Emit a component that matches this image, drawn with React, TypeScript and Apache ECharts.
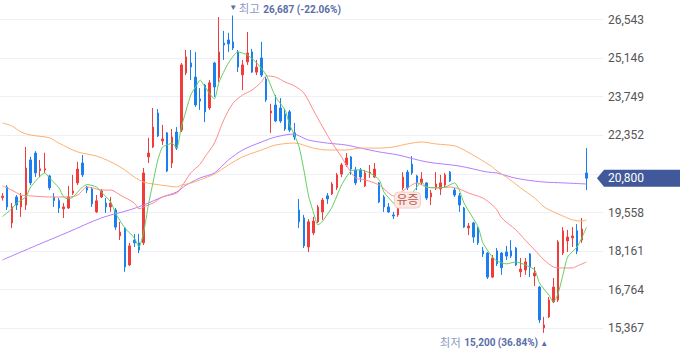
import React, { useEffect, useRef } from "react";
import * as echarts from "echarts";

// Daily candles (KRW)
const opens = [
  20100, 20480, 19180, 20120, 19760, 19830, 21460, 21710, 21070, 21100,
  20880, 20120, 19990, 19690, 19720, 20260, 20630, 21350, 20480, 20410,
  19580, 20120, 19900, 19760, 19650, 18710, 19000, 17660, 18560, 18460,
  18460, 21570, 21930, 23160, 22150, 22440, 21350, 22470, 22540, 24610,
  24970, 24460, 23670, 24170, 23340, 24970, 24430, 25690, 25800, 25730,
  25370, 24540, 25010, 25370, 24640, 25150, 24390, 23160, 23450, 23340,
  23120, 23200, 22440, 19650, 19360, 18310, 18820, 19220, 19580, 20160,
  20230, 20450, 20950, 21280, 21570, 21100, 21100, 20520, 20990, 20840,
  20630, 20120, 19760, 19470, 19470, 20450, 21020, 21310, 20880, 20630,
  20630, 20120, 20450, 20410, 20550, 21020, 20370, 20160, 19720, 19000,
  19180, 19000, 18170, 18090, 17220, 18170, 18090, 18130, 18170, 18270,
  17410, 17480, 18060, 17260, 16860, 15380, 15780, 16320, 16390, 18090,
  18530, 18640, 18900, 18560, 20990,
];
const closes = [
  20150, 19760, 19760, 19830, 20160, 21170, 20630, 20990, 21140, 21140,
  20450, 19990, 19720, 19760, 20120, 20340, 21130, 20920, 20370, 19870,
  19980, 20340, 19760, 19900, 19030, 18850, 17590, 18350, 18460, 18200,
  20990, 21710, 22650, 22330, 22220, 21060, 22290, 21890, 24900, 25190,
  24820, 23450, 23590, 23200, 24250, 24100, 25370, 25620, 25660, 25510,
  24820, 24900, 25330, 24640, 24820, 24530, 23630, 23230, 22870, 22870,
  22580, 22540, 22290, 19220, 18350, 19220, 19250, 19760, 20010, 20050,
  20590, 20920, 21280, 21530, 21130, 20630, 20840, 20990, 21020, 21130,
  19940, 19760, 19580, 19430, 19760, 20840, 20450, 20990, 20630, 20770,
  20080, 20260, 20590, 20630, 20920, 20700, 20190, 19830, 19030, 19070,
  18670, 18460, 18060, 17220, 17910, 17700, 17560, 17980, 17980, 17660,
  17510, 17770, 17590, 17370, 15670, 15490, 16390, 16860, 18490, 18890,
  18670, 18710, 18160, 18960, 20800,
];
const lows = [
  19990, 19650, 19000, 19650, 19400, 19650, 20550, 20840, 20840, 20990,
  20370, 19760, 19540, 19360, 19690, 20190, 20550, 20840, 20260, 19760,
  19540, 20080, 19540, 19580, 18930, 18560, 17410, 17620, 18310, 18090,
  18380, 21350, 21890, 22290, 22000, 21020, 21170, 21820, 22470, 24530,
  24350, 23380, 23270, 22830, 23270, 23740, 24280, 25080, 25370, 25440,
  24640, 23990, 24900, 24610, 24530, 24460, 23560, 22440, 22830, 22800,
  22510, 22470, 22180, 19000, 18270, 18130, 18740, 19180, 19290, 19870,
  20190, 20370, 20840, 21210, 20920, 20550, 20660, 20480, 20810, 20810,
  19900, 19580, 19540, 19320, 19400, 20370, 20370, 20920, 20370, 20550,
  20010, 19830, 20370, 20190, 20480, 20660, 20120, 19580, 19000, 18740,
  18460, 18380, 17950, 17150, 17190, 17620, 17300, 17840, 17910, 17620,
  17220, 17300, 17220, 16900, 15560, 15200, 15740, 16280, 16320, 18020,
  18130, 18310, 18050, 18460, 20370,
];
const highs = [
  20260, 20550, 19900, 20190, 20260, 21930, 21570, 21780, 21460, 21720,
  20920, 20260, 20080, 19900, 20520, 20920, 21390, 21640, 20520, 20480,
  20190, 20410, 20080, 20120, 19720, 19220, 19030, 18460, 18780, 18780,
  21170, 22260, 23340, 23300, 22730, 22470, 22580, 22650, 24970, 25440,
  25440, 25370, 24060, 24210, 24350, 25010, 26630, 26130, 26060, 26687,
  25440, 25080, 26090, 25480, 25080, 25730, 24460, 23490, 23810, 23700,
  23300, 23270, 22800, 20050, 19470, 19320, 19400, 19830, 20080, 20260,
  20660, 20990, 21350, 21710, 21600, 21210, 21170, 21100, 21280, 21350,
  20660, 20190, 19900, 19580, 19830, 21020, 21100, 21600, 20920, 21020,
  20660, 20370, 21020, 20920, 20990, 21060, 20450, 20260, 19760, 19180,
  19220, 19030, 18310, 18130, 18020, 18270, 18130, 18350, 18560, 18310,
  17910, 17910, 18090, 17590, 16900, 15780, 16500, 17190, 18560, 19030,
  18930, 19030, 19140, 19360, 21890,
];

// Moving averages: [candle index, value]
const ma5 = [
  [0, 19410], [2, 19690], [3, 19900], [5, 20120], [6, 20480], [9, 20990], [10, 20810],
  [12, 20450], [13, 20120], [14, 20050], [15, 20120], [17, 20480], [18, 20570], [20, 20480],
  [21, 20300], [23, 19940], [24, 19540], [26, 19000], [28, 18640], [29, 18310], [30, 18850],
  [31, 19830], [32, 20660], [33, 21460], [34, 21930], [35, 22000], [36, 22070], [37, 21890],
  [38, 22650], [40, 23810], [41, 24100], [42, 24350], [43, 24100], [45, 23670], [46, 24280],
  [48, 24970], [50, 25370], [52, 25260], [54, 24970], [56, 24540], [58, 23740], [60, 23270],
  [61, 22730], [62, 22360], [63, 21930], [64, 21100], [65, 20160], [66, 19580], [67, 19110],
  [68, 19250], [70, 19760], [72, 20550], [74, 21060], [76, 21100], [78, 20990], [80, 20740],
  [81, 20300], [83, 19900], [84, 19760], [87, 20260], [89, 20660], [90, 20480], [92, 20450],
  [94, 20480], [96, 20630], [97, 20370], [98, 19900], [101, 19030], [102, 18460], [104, 17950],
  [105, 17800], [107, 17700], [109, 17770], [111, 17660], [113, 17480], [114, 17010],
  [116, 16570], [117, 16320], [118, 16650], [119, 17300], [120, 17950], [122, 18310],
  [123, 18640], [124, 19030],
];
const ma20 = [
  [0, 20520], [2, 20370], [4, 20190], [6, 20160], [10, 20120], [14, 20120], [16, 20190],
  [18, 20480], [20, 20410], [21, 20370], [23, 20370], [25, 20190], [28, 19900], [29, 19690],
  [30, 19760], [32, 19900], [34, 20120], [37, 20260], [38, 20480], [40, 20990], [42, 21310],
  [43, 21570], [45, 22070], [47, 22910], [49, 23520], [51, 23810], [53, 23990], [55, 24280],
  [56, 24500], [58, 24460], [60, 24280], [62, 24140], [64, 23880], [66, 23270], [68, 22650],
  [70, 22070], [72, 21570], [73, 21280], [75, 20810], [77, 20740], [80, 20550], [82, 20260],
  [83, 20160], [86, 20450], [88, 20630], [90, 20480], [93, 20450], [95, 20480], [97, 20410],
  [99, 20260], [102, 20080], [104, 19830], [105, 19650], [106, 19360], [109, 18930],
  [111, 18560], [113, 18200], [115, 17840], [117, 17590], [119, 17550], [121, 17550],
  [122, 17620], [124, 17770],
];
const ma60 = [
  [0, 22800], [2, 22690], [4, 22470], [6, 22360], [10, 22260], [12, 22070], [16, 21750],
  [20, 21600], [23, 21390], [26, 21100], [28, 20840], [30, 20660], [32, 20590], [35, 20520],
  [37, 20480], [38, 20550], [40, 20620], [42, 20740], [45, 20950], [48, 21280], [51, 21570],
  [55, 21820], [58, 22000], [62, 22070], [66, 21890], [69, 21820], [73, 21820], [76, 21890],
  [80, 21890], [83, 21930], [86, 22040], [89, 22110], [92, 22040], [96, 21970], [98, 21820],
  [101, 21530], [104, 21210], [105, 21060], [107, 20840], [110, 20450], [113, 20080],
  [115, 19760], [117, 19580], [119, 19430], [121, 19290], [123, 19250], [124, 19290],
];
const ma120 = [
  [0, 17840], [7, 18350], [14, 18850], [21, 19360], [27, 19650], [30, 19830], [34, 20120],
  [37, 20300], [39, 20550], [42, 20810], [45, 20990], [48, 21460], [51, 21820], [55, 22110],
  [58, 22290], [62, 22400], [63, 22330], [65, 22180], [69, 22070], [73, 22000], [76, 21890],
  [80, 21750], [84, 21640], [90, 21390], [97, 21240], [103, 21020], [105, 20990], [108, 20840],
  [111, 20740], [115, 20660], [119, 20630], [124, 20590],
];

const yTickStep = 1397;
const yMin = 13970;
const yMax = 27940;
const slotCount = 128;
const eventIndex = 86;
const eventLabel = "유증";

const FONT = 'Roboto, "Noto Sans CJK KR", sans-serif';
const UP = "#ef3d3d";
const DOWN = "#1c7ff0";

const fmt = (v: number) => v.toLocaleString("en-US");

export default function App() {
  const ref = useRef<HTMLDivElement>(null);
  useEffect(() => {
    const chart = echarts.init(ref.current!, null, { renderer: "svg" });
    const cats = Array.from({ length: slotCount }, (_, i) => String(i));
    const candles = opens.map((o, i) => [o, closes[i], lows[i], highs[i]]);
    const last = closes[closes.length - 1];
    const lineSeries = (data: number[][], color: string, smooth: number) => ({
      type: "line",
      data,
      symbol: "none",
      showSymbol: false,
      smooth,
      silent: true,
      lineStyle: { width: 1, color },
      z: 3,
    });
    chart.setOption({
      animation: false,
      grid: { left: 0, right: 77, top: 10.9, bottom: 23.1 },
      xAxis: { type: "category", data: cats, boundaryGap: true, show: false },
      yAxis: {
        type: "value",
        position: "right",
        min: yMin,
        max: yMax,
        interval: yTickStep,
        axisLine: { show: false },
        axisTick: { show: false },
        splitLine: { lineStyle: { color: "#eef0f5", width: 1 } },
        axisLabel: {
          margin: 5,
          color: "#555555",
          fontSize: 12,
          fontFamily: FONT,
          formatter: (v: number) =>
            v <= yMin || v >= yMax || Math.abs(v - last) < yTickStep / 2 ? "" : fmt(v),
        },
      },
      series: [
        {
          type: "candlestick",
          data: candles,
          barWidth: 2,
          silent: true,
          itemStyle: {
            color: UP,
            color0: DOWN,
            borderColor: UP,
            borderColor0: DOWN,
            borderWidth: 1,
          },
          z: 2,
        },
        lineSeries(ma120, "#b67cff", 0.3),
        lineSeries(ma60, "#ffb070", 0.3),
        lineSeries(ma20, "#ff8c8c", 0.3),
        lineSeries(ma5, "#5fd05f", 0.2),
      ],
    });

    let hiIdx = 0;
    let loIdx = 0;
    highs.forEach((h, i) => { if (h > highs[hiIdx]) hiIdx = i; });
    lows.forEach((l, i) => { if (l < lows[loIdx]) loIdx = i; });
    const hiVal = highs[hiIdx];
    const loVal = lows[loIdx];
    const hiPct = (((last - hiVal) / hiVal) * 100).toFixed(2);
    const loPct = (((last - loVal) / loVal) * 100).toFixed(2);
    const [hx, hy] = chart.convertToPixel({ gridIndex: 0 }, [hiIdx, hiVal]) as number[];
    const [lx, ly] = chart.convertToPixel({ gridIndex: 0 }, [loIdx, loVal]) as number[];
    const [, py] = chart.convertToPixel({ gridIndex: 0 }, [closes.length - 1, last]) as number[];
    const [ex, ey] = chart.convertToPixel({ gridIndex: 0 }, [eventIndex, lows[eventIndex]]) as number[];
    const gridRight = 680 - 77;
    const markColor = "#5a6ea8";
    const richStyle = {
      a: { fontSize: 11.5, fill: "#8e9ac4", fontFamily: FONT },
      b: { fontSize: 10, fill: markColor, fontWeight: "bold", fontFamily: FONT },
    };

    chart.setOption({
      graphic: [
        {
          type: "text", x: hx, y: hy - 8, z: 10,
          style: { text: "▼", fill: markColor, fontSize: 8, align: "center", verticalAlign: "middle" },
        },
        {
          type: "text", x: hx + 5.5, y: hy - 6.5, z: 10,
          style: {
            text: `{a|최고} {b|${fmt(hiVal)} (${hiPct}%)}`,
            rich: richStyle, align: "left", verticalAlign: "middle",
          },
        },
        {
          type: "text", x: lx, y: ly + 10.5, z: 10,
          style: { text: "▲", fill: markColor, fontSize: 8, align: "center", verticalAlign: "middle" },
        },
        {
          type: "text", x: lx - 6, y: ly + 10, z: 10,
          style: {
            text: `{a|최저} {b|${fmt(loVal)} (${loPct}%)}`,
            rich: richStyle, align: "right", verticalAlign: "middle",
          },
        },
        {
          type: "rect", z: 10,
          shape: { x: ex - 13, y: ey + 2, width: 26, height: 16, r: 4 },
          style: { fill: "#fce8e4", stroke: "#f4d0c9", lineWidth: 1 },
        },
        {
          type: "text", x: ex, y: ey + 10, z: 11,
          style: {
            text: eventLabel, fill: "#bb5a50", fontSize: 12, fontFamily: FONT,
            align: "center", verticalAlign: "middle",
          },
        },
        {
          type: "polygon", z: 10,
          shape: {
            points: [
              [gridRight - 6, py],
              [gridRight + 1, py - 8.5],
              [680, py - 8.5],
              [680, py + 8.5],
              [gridRight + 1, py + 8.5],
            ],
          },
          style: { fill: "#41599a" },
        },
        {
          type: "text", x: gridRight + 5, y: py, z: 11,
          style: {
            text: fmt(last), fill: "#ffffff", fontSize: 12, fontFamily: FONT,
            align: "left", verticalAlign: "middle",
          },
        },
      ],
    });

    return () => chart.dispose();
  }, []);

  return (
    <div style={{ position: "fixed", left: 0, top: 0, width: 680, height: 358, overflow: "hidden", background: "#ffffff" }}>
      <div ref={ref} style={{ position: "absolute", left: 0, top: -30, width: 680, height: 420 }} />
    </div>
  );
}
